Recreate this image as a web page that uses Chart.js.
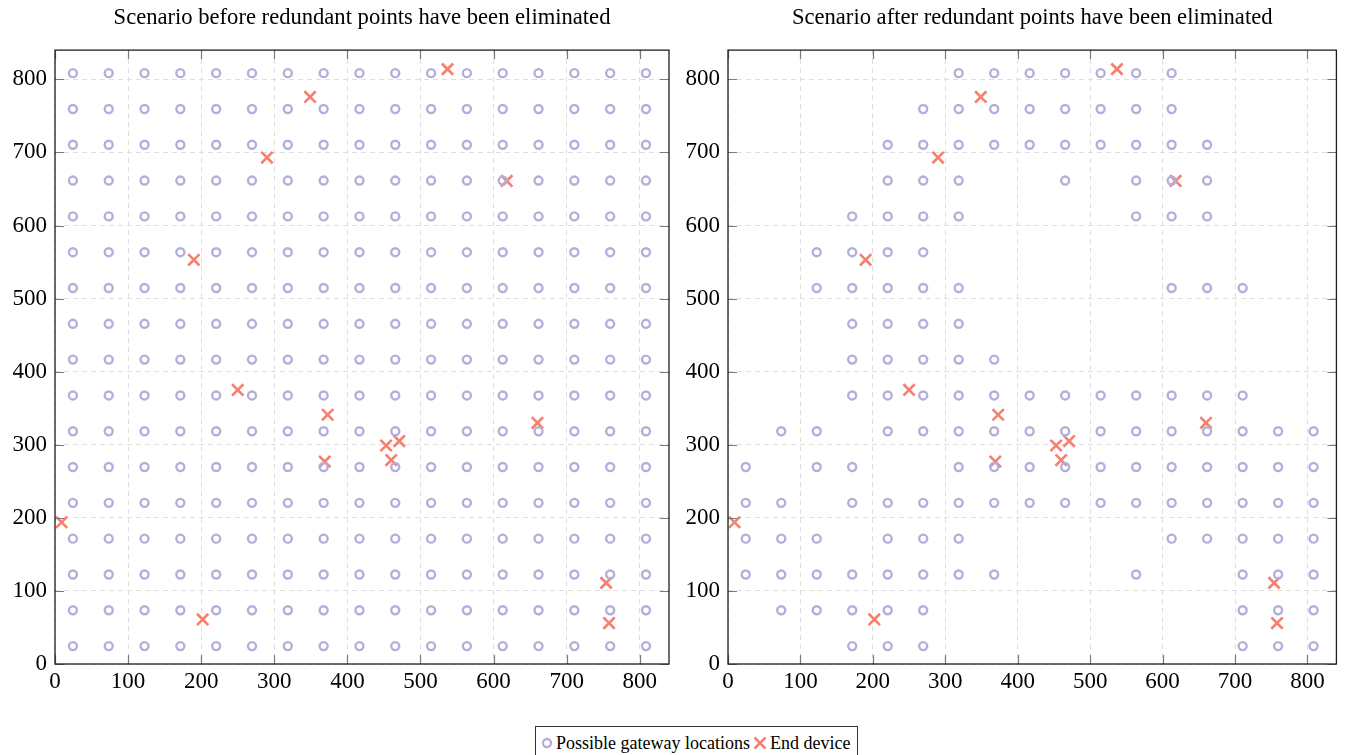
<!DOCTYPE html>
<html>
<head>
<meta charset="utf-8">
<script src="https://cdn.jsdelivr.net/npm/chart.js@4.4.1/dist/chart.umd.min.js"></script>
<style>
    html, body {
        margin: 0;
        padding: 0;
        background: #ffffff;
        width: 1347px;
        height: 755px;
        overflow: hidden;
    }
    .plot {
        position: absolute;
        top: 0;
    }
    #legend {
        position: absolute;
        left: 535px;
        top: 726px;
        width: 323px;
        height: 34px;
        border: 1px solid #333;
        box-sizing: border-box;
        font-family: 'Liberation Serif', 'Times New Roman', serif;
        font-size: 18px;
        color: #000;
        display: flex;
        align-items: center;
        padding-left: 4px;
        white-space: nowrap;
    }
    #legend svg {
        margin-right: 2px;
    }
</style>
</head>
<body>

<div class="plot" style="left:0px;"><canvas id="chartBefore" width="680" height="714"></canvas></div>
<div class="plot" style="left:673px;"><canvas id="chartAfter" width="674" height="714"></canvas></div>

<div id="legend">
    <svg width="14" height="14" viewBox="0 0 14 14"><circle cx="7" cy="7" r="4" fill="none" stroke="#b3afdc" stroke-width="2.3"/></svg><span>Possible gateway locations</span>
    <svg width="16" height="16" viewBox="0 0 16 16" style="margin-left:2px;"><path d="M2.5 2.5 L13.5 13.5 M13.5 2.5 L2.5 13.5" stroke="#f77f6e" stroke-width="2.5"/></svg><span>End device</span>
</div>

<script>
// candidate gateway grid: same coordinates on both axes (cell size 49)
const gridCoords = [24.5, 73.5, 122.5, 171.5, 220.5, 269.5, 318.5, 367.5, 416.5,
                    465.5, 514.5, 563.5, 612.5, 661.5, 710.5, 759.5, 808.5];

// gateway columns (indices into gridCoords) still present per row, bottom row first
const keptColumns = [
    [3, 4, 5, 14, 15, 16],
    [1, 2, 3, 4, 5, 14, 15, 16],
    [0, 1, 2, 3, 4, 5, 6, 7, 11, 14, 15, 16],
    [0, 1, 2, 4, 5, 6, 12, 13, 14, 15, 16],
    [0, 1, 3, 4, 5, 6, 7, 8, 9, 10, 11, 12, 13, 14, 15, 16],
    [0, 2, 3, 6, 7, 8, 9, 10, 11, 12, 13, 14, 15, 16],
    [1, 2, 4, 5, 6, 7, 8, 9, 10, 11, 12, 13, 14, 15, 16],
    [3, 4, 5, 6, 7, 8, 9, 10, 11, 12, 13, 14],
    [3, 4, 5, 6, 7],
    [3, 4, 5, 6],
    [2, 3, 4, 5, 6, 12, 13, 14],
    [2, 3, 4, 5],
    [3, 4, 5, 6, 11, 12, 13],
    [4, 5, 6, 9, 11, 12, 13],
    [4, 5, 6, 7, 8, 9, 10, 11, 12, 13],
    [5, 6, 7, 8, 9, 10, 11, 12],
    [6, 7, 8, 9, 10, 11, 12]
];

// end device positions
const deviceX = [537, 349, 290, 618, 190, 250, 373, 660, 453, 471, 369, 460, 9, 202, 754, 758];
const deviceY = [814, 776, 693, 661, 553, 375, 341, 330, 299, 305, 277, 279, 194, 61, 111, 56];

const axisMin = 0;
const axisMax = 840;
const tickStep = 100;

const GATEWAY_COLOR = '#b3afdc';
const DEVICE_COLOR = '#f77f6e';
const SERIF = "'Liberation Serif', 'Times New Roman', serif";
const TICK_LEN = 9;

function allGateways() {
    const pts = [];
    gridCoords.forEach(gy => {
        gridCoords.forEach(gx => pts.push({ x: gx, y: gy }));
    });
    return pts;
}

function keptGateways() {
    const pts = [];
    keptColumns.forEach((cols, row) => {
        cols.forEach(c => pts.push({ x: gridCoords[c], y: gridCoords[row] }));
    });
    return pts;
}

function devicePoints() {
    return deviceX.map((x, i) => ({ x: x, y: deviceY[i] }));
}

/**
 * Closed box around the plot area plus inward tick marks on all four sides
 */
const frameTicks = {
    id: 'frameTicks',
    afterDatasetsDraw(chart) {
        const { ctx, chartArea: a, scales: { x, y } } = chart;
        ctx.save();
        ctx.strokeStyle = '#7a7a7a';
        ctx.lineWidth = 1.2;
        ctx.beginPath();
        x.ticks.forEach(t => {
            const px = Math.round(x.getPixelForValue(t.value)) + 0.5;
            ctx.moveTo(px, a.bottom);
            ctx.lineTo(px, a.bottom - TICK_LEN);
            ctx.moveTo(px, a.top);
            ctx.lineTo(px, a.top + TICK_LEN);
        });
        y.ticks.forEach(t => {
            const py = Math.round(y.getPixelForValue(t.value)) + 0.5;
            ctx.moveTo(a.left, py);
            ctx.lineTo(a.left + TICK_LEN, py);
            ctx.moveTo(a.right, py);
            ctx.lineTo(a.right - TICK_LEN, py);
        });
        ctx.stroke();
        ctx.strokeStyle = '#1e1e1e';
        ctx.lineWidth = 1.3;
        ctx.strokeRect(a.left, a.top, a.right - a.left, a.bottom - a.top);
        ctx.restore();
    }
};

function axisOptions(isX) {
    return {
        type: 'linear',
        min: axisMin,
        max: axisMax,
        afterFit: (scale) => {
            if (isX) scale.height = 50;
            else scale.width = 55;
        },
        ticks: {
            stepSize: tickStep,
            includeBounds: false,
            color: '#000',
            padding: isX ? 4 : 8,
            font: { family: SERIF, size: 23 },
            callback: (v) => v
        },
        grid: {
            color: '#dedede',
            lineWidth: 1,
            drawTicks: false
        },
        border: {
            display: false,
            dash: [5, 4]
        }
    };
}

function makeChart(canvasId, title, gateways, rightPad) {
    const ctx = document.getElementById(canvasId).getContext('2d');
    return new Chart(ctx, {
        type: 'scatter',
        data: {
            datasets: [
                {
                    label: 'Possible gateway locations',
                    data: gateways,
                    pointStyle: 'circle',
                    pointRadius: 4,
                    pointBorderWidth: 2.4,
                    borderColor: GATEWAY_COLOR,
                    backgroundColor: 'rgba(0,0,0,0)'
                },
                {
                    label: 'End device',
                    data: devicePoints(),
                    pointStyle: 'crossRot',
                    pointRadius: 8,
                    pointBorderWidth: 2.6,
                    borderColor: DEVICE_COLOR,
                    backgroundColor: DEVICE_COLOR
                }
            ]
        },
        options: {
            responsive: false,
            animation: false,
            events: [],
            layout: {
                padding: { left: 0, right: rightPad, top: 0, bottom: 0 }
            },
            plugins: {
                legend: { display: false },
                tooltip: { enabled: false },
                title: {
                    display: true,
                    fullSize: false, // centre over the plot area, not the canvas
                    text: title,
                    color: '#000',
                    font: { family: SERIF, size: 22.6, weight: 'normal' },
                    padding: { top: 5, bottom: 18 }
                }
            },
            scales: {
                x: axisOptions(true),
                y: axisOptions(false)
            }
        },
        plugins: [frameTicks]
    });
}

makeChart('chartBefore', 'Scenario before redundant points have been eliminated', allGateways(), 11);
makeChart('chartAfter', 'Scenario after redundant points have been eliminated', keptGateways(), 5);
</script>
</body>
</html>
